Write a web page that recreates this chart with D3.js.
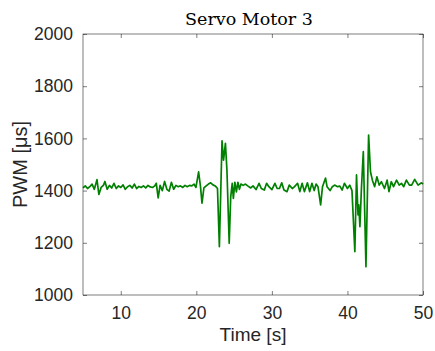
<!DOCTYPE html>
<html><head><meta charset="utf-8">
<script src="https://cdn.jsdelivr.net/npm/d3@7"></script>
<style>body{margin:0;background:#fff}svg{display:block}</style>
</head><body>
<script>
const title = "Servo Motor 3";
const xLabel = "Time [s]";
const yLabel = "PWM [μs]";
const xTicks = [10, 20, 30, 40, 50];
const yTicks = [1000, 1200, 1400, 1600, 1800, 2000];
const timeS = [
 5.0,5.3,5.6,5.9,6.2,6.5,6.85,7.1,7.4,7.7,7.9,8.2,8.5,8.8,9.1,9.4,9.7,10.0,10.3,10.6,10.9,11.2,11.5,11.8,12.1,12.4,12.7,13.0,13.3,13.6,13.9,14.2,14.5,14.7,14.95,15.2,15.5,15.8,16.1,16.4,16.7,17.0,17.3,17.6,17.9,18.2,18.5,18.8,19.1,19.4,19.7,19.95,20.3,20.55,20.75,21.0,21.3,21.6,21.9,22.2,22.5,22.8,23.05,23.4,23.6,23.85,24.05,24.35,24.55,24.75,24.9,25.1,25.3,25.5,25.7,25.9,26.2,26.5,26.8,27.2,27.5,27.9,28.3,28.6,29.0,29.3,29.6,30.0,30.4,30.7,31.0,31.3,31.6,32.0,32.3,32.7,33.0,33.4,33.7,34.0,34.3,34.7,35.0,35.3,35.6,35.85,36.1,36.45,36.7,37.1,37.3,37.7,38.0,38.3,38.7,39.0,39.3,39.6,40.0,40.3,40.6,40.98,41.2,41.4,41.5,41.65,41.85,42.1,42.45,42.8,43.05,43.3,43.6,43.9,44.2,44.5,44.9,45.25,45.5,45.8,46.1,46.5,46.85,47.15,47.45,47.8,48.2,48.5,48.9,49.35,49.8,50.0
];
const pwm = [
 1410,1418,1408,1415,1425,1405,1442,1385,1412,1420,1435,1405,1420,1410,1428,1408,1418,1412,1422,1405,1415,1420,1410,1425,1408,1416,1412,1418,1410,1420,1414,1412,1418,1428,1372,1420,1400,1435,1405,1398,1432,1405,1420,1415,1418,1412,1420,1415,1420,1418,1425,1412,1472,1415,1352,1410,1418,1425,1430,1422,1418,1408,1185,1591,1517,1581,1479,1198,1376,1428,1370,1432,1395,1432,1405,1425,1420,1425,1418,1410,1418,1404,1428,1408,1402,1428,1415,1404,1428,1408,1408,1430,1402,1396,1421,1408,1415,1428,1396,1428,1396,1430,1396,1428,1400,1425,1415,1345,1415,1448,1415,1400,1415,1421,1415,1417,1402,1428,1408,1421,1400,1166,1460,1307,1345,1262,1408,1549,1108,1613,1472,1440,1415,1453,1421,1434,1408,1440,1396,1434,1415,1440,1421,1428,1415,1440,1421,1421,1443,1421,1430,1425
];

const W = 435, H = 351;
const m = {l: 83, r: 12, t: 34, b: 56};
const svg = d3.select("body").append("svg").attr("width", W).attr("height", H);
const x = d3.scaleLinear().domain([5, 50]).range([m.l, W - m.r]);
const y = d3.scaleLinear().domain([1000, 2000]).range([H - m.b, m.t]);
const axCol = "#262626";
const fontSans = "'Liberation Sans', Arial, sans-serif";

const pts = timeS.map((t, i) => [t, pwm[i]]);
svg.append("path").datum(pts)
  .attr("fill", "none").attr("stroke", "#008000").attr("stroke-width", 1.7)
  .attr("stroke-linejoin", "round")
  .attr("d", d3.line().x(d => x(d[0])).y(d => y(d[1])));

function styleAxis(g){
  g.select(".domain").remove();
  g.selectAll(".tick line").attr("stroke", axCol).attr("stroke-width", 0.6);
  g.selectAll(".tick text").attr("fill", axCol).style("font-family", fontSans).style("font-size", "17.5px");
}
const tl = 4;
svg.append("g").attr("transform", `translate(0,${H - m.b})`)
  .call(d3.axisBottom(x).tickValues(xTicks).tickSize(-tl).tickPadding(12).tickFormat(d3.format("d")))
  .call(styleAxis);
svg.append("g").attr("transform", `translate(0,${m.t})`)
  .call(d3.axisTop(x).tickValues(xTicks).tickSize(-tl).tickFormat(""))
  .call(styleAxis);
svg.append("g").attr("transform", `translate(${m.l},0)`)
  .call(d3.axisLeft(y).tickValues(yTicks).tickSize(-tl).tickPadding(10).tickFormat(d3.format("d")))
  .call(styleAxis);
svg.append("g").attr("transform", `translate(${W - m.r},0)`)
  .call(d3.axisRight(y).tickValues(yTicks).tickSize(-tl).tickFormat(""))
  .call(styleAxis);

svg.append("rect").attr("x", m.l).attr("y", m.t)
  .attr("width", W - m.r - m.l).attr("height", H - m.b - m.t)
  .attr("fill", "none").attr("stroke", axCol).attr("stroke-width", 0.6);

svg.append("text").attr("x", (m.l + W - m.r) / 2 - 4).attr("y", 25)
  .attr("text-anchor", "middle").attr("fill", "#000")
  .style("font-family", "'DejaVu Serif', serif").style("font-size", "17.5px").text(title);
svg.append("text").attr("x", (m.l + W - m.r) / 2).attr("y", 341)
  .attr("text-anchor", "middle").attr("fill", axCol)
  .style("font-family", fontSans).style("font-size", "19px").text(xLabel);
svg.append("text").attr("transform", `translate(27,${(m.t + H - m.b) / 2}) rotate(-90)`)
  .attr("text-anchor", "middle").attr("fill", axCol)
  .style("font-family", fontSans).style("font-size", "20px").text(yLabel);
</script>
</body></html>
